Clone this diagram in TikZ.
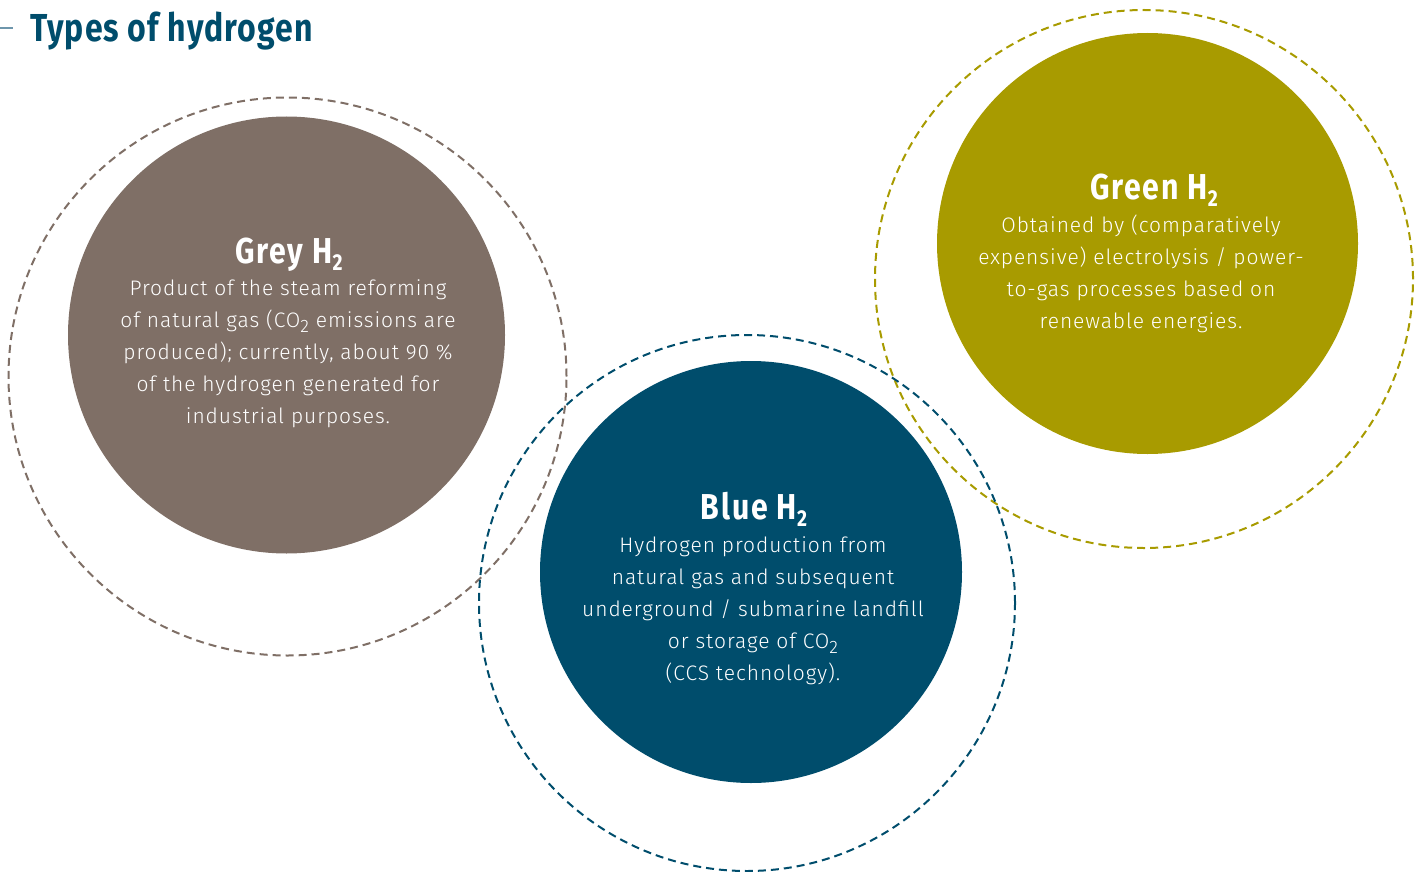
\documentclass[tikz,border=0pt]{standalone}
\usepackage{fontspec}
\setmainfont{Fira Sans Light}[LetterSpace=4.5]
\newfontfamily\headfont{Fira Sans}[FakeStretch=0.84, LetterSpace=5]
\newfontfamily\titlefont{Fira Sans}[FakeStretch=0.82, LetterSpace=2.8]
\newcommand{\hsubtwo}{\raisebox{-7pt}{\fontsize{23}{23}\selectfont 2}}
\newcommand{\bsubtwo}{\raisebox{-5pt}{\fontsize{18}{18}\selectfont 2}}
\definecolor{greyc}{RGB}{127,111,102}
\definecolor{bluec}{RGB}{0,77,108}
\definecolor{greenc}{RGB}{168,155,0}
\definecolor{rulec}{RGB}{110,150,172}
\begin{document}
\begin{tikzpicture}[x=1pt,y=-1pt,
  disc/.style={circle, inner sep=0pt, draw=none, minimum size=#1},
  ring/.style={circle, inner sep=0pt, fill=none, line width=2pt, dash pattern=on 8pt off 5pt, minimum size=#1},
  headtext/.style={text=white, anchor=base, inner sep=0pt, font=\headfont\bfseries\fontsize{36}{40}\selectfont},
  bodytext/.style={text=white, anchor=north, inner sep=0pt, align=center, font=\fontsize{21}{32}\selectfont},
  titletext/.style={text=bluec, anchor=base west, inner sep=0pt, font=\titlefont\bfseries\fontsize{39}{44}\selectfont}]
\useasboundingbox (0,0) rectangle (1424,872);
% title
\coordinate (rulestart) at (0,28);
\coordinate (ruleend) at (13,28);
\draw[rulec, line width=1.2pt] (rulestart) -- (ruleend);
\node[titletext] (title) at (30,42) {Types of hydrogen};
% rings
\node[ring=558, draw=greyc] (greyring) at (287.5,376.5) {};
\node[ring=538, draw=greenc] (greenring) at (1144,279) {};
\node[ring=536, draw=bluec] (bluering) at (747,603) {};
% discs
\node[disc=437, fill=greyc] (greydisc) at (286.5,335) {};
\node[disc=422, fill=bluec] (bluedisc) at (751,572) {};
\node[disc=421, fill=greenc] (greendisc) at (1147.5,243.5) {};
% grey text
\node[headtext] (greyhead) at (289,263) {Grey H\hsubtwo};
\node[bodytext] (greybody) at (288,271) {\rule{0pt}{24pt}Product of the steam reforming\\
of natural gas (CO\bsubtwo{} emissions are\\
produced); currently, about 90~\%\\
of the hydrogen generated for\\
industrial purposes.};
% green text
\node[headtext] (greenhead) at (1154,199) {Green H\hsubtwo};
\node[bodytext] (greenbody) at (1141,208) {\rule{0pt}{24pt}Obtained by (comparatively\\
expensive) electrolysis / power-\\
to-gas processes based on\\
renewable energies.};
% blue text
\node[headtext] (bluehead) at (754,519) {Blue H\hsubtwo};
\node[bodytext] (bluebody) at (753,528) {\rule{0pt}{24pt}Hydrogen production from\\
natural gas and subsequent\\
underground / submarine landfill\\
or storage of CO\bsubtwo\\
(CCS technology).};
\end{tikzpicture}
\end{document}
